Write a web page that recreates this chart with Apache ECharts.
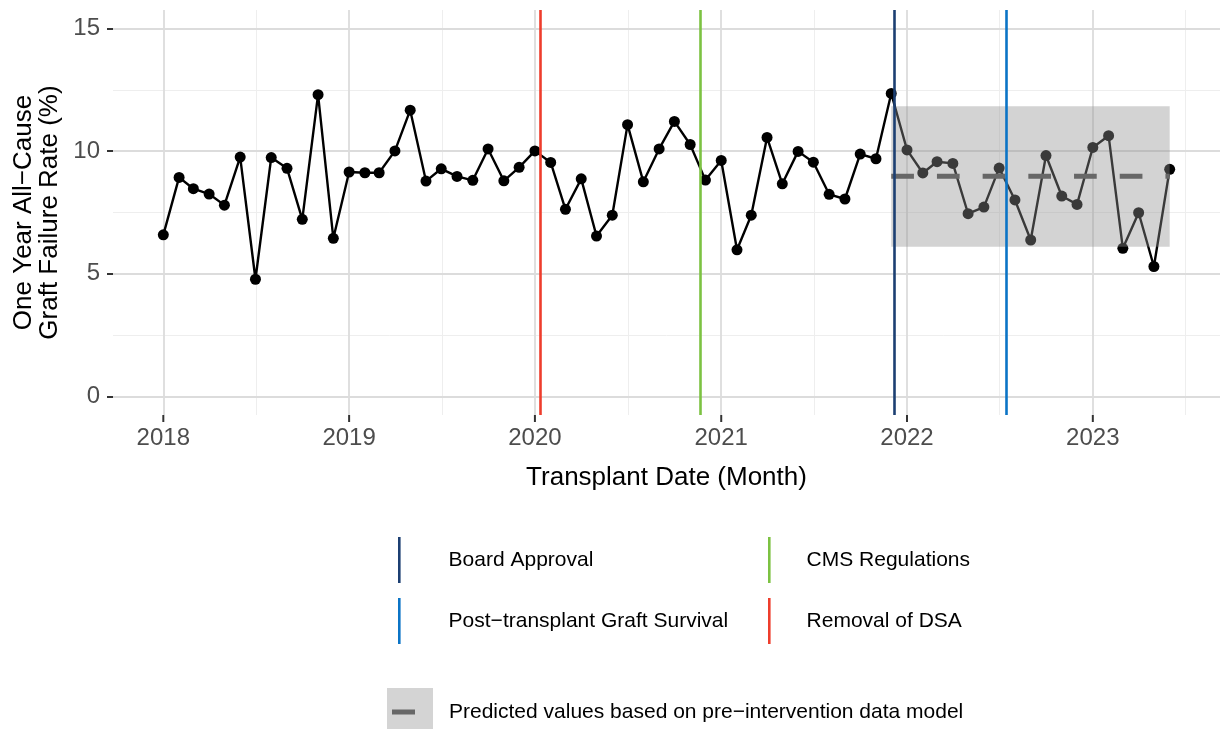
<!DOCTYPE html>
<html>
<head>
<meta charset="utf-8">
<script src="https://cdn.jsdelivr.net/npm/echarts@6/dist/echarts.min.js"></script>
<style>
html,body{margin:0;padding:0;background:#fff;}
#chart{width:1225px;height:729px;}
</style>
</head>
<body>
<div id="chart"></div>
<script>
// ---- data ----
const months = [
 '2018-01-01','2018-02-01','2018-03-01','2018-04-01','2018-05-01','2018-06-01','2018-07-01','2018-08-01','2018-09-01','2018-10-01','2018-11-01','2018-12-01',
 '2019-01-01','2019-02-01','2019-03-01','2019-04-01','2019-05-01','2019-06-01','2019-07-01','2019-08-01','2019-09-01','2019-10-01','2019-11-01','2019-12-01',
 '2020-01-01','2020-02-01','2020-03-01','2020-04-01','2020-05-01','2020-06-01','2020-07-01','2020-08-01','2020-09-01','2020-10-01','2020-11-01','2020-12-01',
 '2021-01-01','2021-02-01','2021-03-01','2021-04-01','2021-05-01','2021-06-01','2021-07-01','2021-08-01','2021-09-01','2021-10-01','2021-11-01','2021-12-01',
 '2022-01-01','2022-02-01','2022-03-01','2022-04-01','2022-05-01','2022-06-01','2022-07-01','2022-08-01','2022-09-01','2022-10-01','2022-11-01','2022-12-01',
 '2023-01-01','2023-02-01','2023-03-01','2023-04-01','2023-05-01','2023-06-01'
];
const failureRate = [
 6.59, 8.93, 8.47, 8.25, 7.80, 9.76, 4.78, 9.74, 9.30, 7.22, 12.30, 6.45,
 9.15, 9.12, 9.12, 10.01, 11.67, 8.78, 9.28, 8.97, 8.81, 10.09, 8.79, 9.34,
 10.01, 9.54, 7.63, 8.87, 6.54, 7.39, 11.08, 8.75, 10.09, 11.21, 10.27, 8.82,
 9.62, 5.98, 7.39, 10.56, 8.67, 9.99, 9.55, 8.24, 8.05, 9.88, 9.69, 12.35,
 10.05, 9.11, 9.57, 9.50, 7.45, 7.72, 9.31, 8.01, 6.38, 9.82, 8.17, 7.83,
 10.15, 10.63, 6.04, 7.49, 5.30, 9.26
];
const eventNames = ['Board Approval', 'CMS Regulations', 'Post\u2212transplant Graft Survival', 'Removal of DSA'];
const eventDates = ['2021-12-06', '2020-11-20', '2022-07-15', '2020-01-11'];
const eventColors = ['#1c3f72', '#7cc242', '#0b74c6', '#ee3d2c'];
const predName = 'Predicted values based on pre\u2212intervention data model';
const predStart = '2021-12-01';
const predEnd = '2023-06-01';
const predMean = 8.98;
const predLow = 6.10;
const predHigh = 11.83;
const yTicks = [0, 5, 10, 15];
const yMinor = [2.5, 7.5, 12.5];
const xTickDates = ['2018-01-01','2019-01-01','2020-01-01','2021-01-01','2022-01-01','2023-01-01'];
const xTickLabels = ['2018','2019','2020','2021','2022','2023'];
const xMinorDates = ['2018-07-02','2019-07-02','2020-07-02','2021-07-02','2022-07-02','2023-07-02'];

// ---- helpers ----
function ts(s) { const p = s.split('-').map(Number); return Date.UTC(p[0], p[1] - 1, p[2]); }
const first = ts(months[0]), last = ts(months[months.length - 1]);
const span = last - first;
const xMin = first - 0.05 * span, xMax = last + 0.05 * span;
const yMin = 0 - 0.05 * 15, yMax = 15 + 0.05 * 15;
const xTickTs = xTickDates.map(ts);

const FONT = '"Liberation Sans", Arial, Helvetica, sans-serif';
const chart = echarts.init(document.getElementById('chart'), null, {renderer: 'canvas'});

const gridMarks = [].concat(
  yMinor.map(v => ({yAxis: v, lineStyle: {color: '#eeeeee', width: 1, type: 'solid'}})),
  xMinorDates.map(d => ({xAxis: ts(d), lineStyle: {color: '#eeeeee', width: 1, type: 'solid'}})),
  yTicks.map(v => ({yAxis: v, lineStyle: {color: '#dcdcdc', width: 1.8, type: 'solid'}})),
  xTickTs.map(t => ({xAxis: t, lineStyle: {color: '#dcdcdc', width: 1.8, type: 'solid'}}))
);

const series = [
  {
    name: 'grid', type: 'line', data: [], z: 0, silent: true,
    markLine: { z: 0, silent: true, symbol: ['none', 'none'], label: {show: false}, animation: false, data: gridMarks }
  },
  {
    // x-axis tick marks below the panel, positioned through the axis scale
    name: 'xticks', type: 'custom', z: 1, silent: true, clip: false,
    data: xTickTs.map(t => [t, yMin]),
    encode: {x: 0, y: 1},
    renderItem: function (params, api) {
      const p = api.coord([api.value(0), api.value(1)]);
      return { type: 'line', shape: {x1: p[0], y1: p[1], x2: p[0], y2: p[1] + 7},
               style: {stroke: '#333', lineWidth: 2} };
    },
    animation: false
  },
  {
    name: 'rate', type: 'line', z: 2,
    data: months.map((m, i) => [ts(m), failureRate[i]]),
    symbol: 'circle', symbolSize: 11, showSymbol: true,
    itemStyle: {color: '#000'},
    lineStyle: {color: '#000', width: 2.4},
    animation: false
  },
  {
    name: predName, type: 'custom', z: 3,
    itemStyle: {color: '#d4d4d4'},
    data: [[ts(predStart), ts(predEnd), predLow, predHigh]],
    encode: {x: [0, 1], y: [2, 3]},
    renderItem: function (params, api) {
      const p1 = api.coord([api.value(0), api.value(3)]);
      const p2 = api.coord([api.value(1), api.value(2)]);
      return { type: 'rect', shape: {x: p1[0], y: p1[1], width: p2[0] - p1[0], height: p2[1] - p1[1]},
               style: {fill: 'rgba(146,146,146,0.4)'} };
    },
    animation: false
  },
  {
    name: predName, type: 'line', z: 4,
    data: [[ts(predStart), predMean], [ts(predEnd), predMean]],
    symbol: 'none',
    lineStyle: {color: '#676767', width: 5, type: [22.7, 23], cap: 'butt'},
    animation: false
  }
];
eventNames.forEach((n, i) => {
  series.push({
    name: n, type: 'line', data: [], z: 10,
    itemStyle: {color: eventColors[i]}, lineStyle: {color: eventColors[i]},
    markLine: { z: 10, silent: true, symbol: ['none', 'none'], label: {show: false}, animation: false,
      data: [{xAxis: ts(eventDates[i]), lineStyle: {color: eventColors[i], width: 2.6, type: 'solid'}}] }
  });
});

const predIcon = 'image://data:image/svg+xml;utf8,' + encodeURIComponent(
  '<svg xmlns="http://www.w3.org/2000/svg" width="46" height="48"><rect width="46" height="48" fill="#d4d4d4"/><rect x="5" y="21.5" width="23" height="5" fill="#676767"/></svg>');

function eventLegend(i, left, top, gap) {
  return { data: [eventNames[i]], left: left, top: top, padding: 0, orient: 'horizontal',
    icon: 'rect', itemWidth: 2.6, itemHeight: 46, selectedMode: false,
    textStyle: {fontFamily: FONT, fontSize: 21, color: '#000', padding: [0, 0, 0, gap]} };
}

const option = {
  backgroundColor: '#fff',
  animation: false,
  grid: {left: 113, right: 5, top: 10, bottom: 314, containLabel: false},
  xAxis: {
    type: 'value', min: xMin, max: xMax,
    name: 'Transplant Date (Month)', nameLocation: 'middle', nameGap: 50,
    nameTextStyle: {fontFamily: FONT, fontSize: 26, color: '#000'},
    axisLine: {show: false, onZero: false},
    axisTick: {show: false},
    axisLabel: {customValues: xTickTs, fontFamily: FONT, fontSize: 24, color: '#4d4d4d', margin: 11,
      formatter: v => { const k = xTickTs.indexOf(v); return k >= 0 ? xTickLabels[k] : ''; }},
    splitLine: {show: false}, minorSplitLine: {show: false}
  },
  yAxis: {
    type: 'value', min: yMin, max: yMax,
    name: 'One Year All\u2212Cause\nGraft Failure Rate (%)', nameLocation: 'middle', nameRotate: 90, nameGap: 47,
    nameTextStyle: {fontFamily: FONT, fontSize: 26, color: '#000', lineHeight: 26},
    axisLine: {show: false, onZero: false},
    axisTick: {show: true, customValues: yTicks, length: 6, lineStyle: {color: '#333', width: 2}},
    axisLabel: {customValues: yTicks, fontFamily: FONT, fontSize: 24, color: '#4d4d4d', margin: 13},
    splitLine: {show: false}
  },
  legend: [
    eventLegend(0, 398, 537, 43),
    eventLegend(1, 768, 537, 31),
    eventLegend(2, 398, 598, 43),
    eventLegend(3, 768, 598, 31),
    { data: [predName], left: 387, top: 688, padding: 0, icon: predIcon, itemWidth: 46, itemHeight: 48, selectedMode: false,
      textStyle: {fontFamily: FONT, fontSize: 21, color: '#000', padding: [0, 0, 0, 11]} }
  ],
  series: series
};
chart.setOption(option);
</script>
</body>
</html>
